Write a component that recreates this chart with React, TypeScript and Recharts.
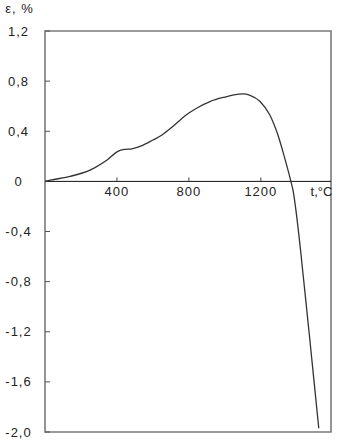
import { LineChart, Line, XAxis, YAxis, ReferenceLine, ReferenceArea, ReferenceDot } from "recharts";

// temperature, °C
const temps = [0, 30, 140, 250, 278, 345, 405, 440, 483, 539, 600, 650, 700, 750, 800, 850, 917, 1000, 1050, 1100, 1140, 1194, 1250, 1295, 1330, 1367, 1380, 1394, 1420, 1444, 1470, 1496, 1522];
// strain, %
const strain = [0, 0.01, 0.04, 0.09, 0.11, 0.17, 0.24, 0.255, 0.26, 0.285, 0.33, 0.37, 0.425, 0.488, 0.545, 0.59, 0.637, 0.673, 0.69, 0.698, 0.687, 0.64, 0.53, 0.37, 0.2, 0, -0.08, -0.22, -0.54, -0.87, -1.23, -1.6, -1.97];

const yTicks = [-2, -1.6, -1.2, -0.8, -0.4, 0, 0.4, 0.8, 1.2];
const xTicks = [400, 800, 1200];

const data = temps.map((t, i) => ({ t, e: strain[i] }));

const font = "'Liberation Sans', Arial, Helvetica, sans-serif";
const ink = "#222";

function fmt(v: number) {
  if (v === 0) return "0";
  return v.toFixed(1).replace(".", ",");
}

function YTick({ x, y, payload }: any) {
  return (
    <g>
      {payload.value !== 0 && <line x1={x} x2={x + 5} y1={y} y2={y} stroke="#555" />}
      <text x={x - 26.5} y={y} dy="0.35em" textAnchor="middle" fontSize={13} letterSpacing={1} fontFamily={font} fill={ink}>
        {fmt(payload.value)}
      </text>
    </g>
  );
}

export default function App() {
  return (
    <div style={{ position: "absolute", left: 0, top: 0, width: 342, height: 448, background: "#fff" }}>
      <LineChart width={342} height={448} data={data} margin={{ top: 31, right: 11, bottom: 16, left: 0 }}>
        <XAxis dataKey="t" type="number" domain={[0, 1590]} hide />
        <YAxis
          type="number"
          domain={[-2, 1.2]}
          ticks={yTicks}
          width={45}
          axisLine={false}
          tickLine={false}
          tickSize={0}
          tickMargin={0}
          tick={<YTick />}
          label={{ value: "ε, %", position: "top", offset: 18, dx: -3, fontSize: 13, fill: ink, fontFamily: font, letterSpacing: 1 }}
        />
        <ReferenceArea x1={0} x2={1590} y1={-2} y2={1.2} fill="none" stroke="#7a7a7a" strokeWidth={1.6} />
        <ReferenceLine y={0} stroke="#111" strokeWidth={1} />
        {xTicks.map((v) => (
          <ReferenceLine key={`tl-${v}`} segment={[{ x: v, y: 0 }, { x: v, y: 0.032 }]} stroke="#444" />
        ))}
        {xTicks.map((v) => (
          <ReferenceDot
            key={`tx-${v}`}
            x={v}
            y={0}
            r={0}
            stroke="none"
            fill="none"
            label={{ value: String(v), position: "bottom", offset: 5, fontSize: 13, fill: ink, fontFamily: font, letterSpacing: 1 }}
          />
        ))}
        <ReferenceDot
          x={1537}
          y={0}
          r={0}
          stroke="none"
          fill="none"
          label={{ value: "t,°C", position: "bottom", offset: 5, fontSize: 13, fill: ink, fontFamily: font }}
        />
        <Line type="monotone" dataKey="e" stroke="#333" strokeWidth={1.3} dot={false} isAnimationActive={false} />
      </LineChart>
    </div>
  );
}
